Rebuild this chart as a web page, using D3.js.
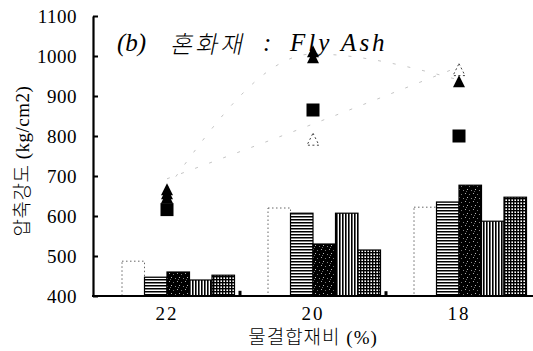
<!DOCTYPE html>
<html>
<head>
<meta charset="utf-8">
<script src="https://cdn.jsdelivr.net/npm/d3@7"></script>
<style>
  html, body { margin: 0; padding: 0; background: #fff; }
  svg { display: block; }
</style>
</head>
<body>
<svg id="chart" width="533" height="351"></svg>
<script>
// ---------- data ----------
const categories = ["22", "20", "18"];
const yTicks = [400, 500, 600, 700, 800, 900, 1000, 1100];
const barSeries = ["s1", "s2", "s3", "s4", "s5"];
const s1Values = [487, 620, 622];   // blank (dotted outline)
const s2Values = [447, 607, 635];   // horizontal lines
const s3Values = [460, 530, 677];   // dark stipple
const s4Values = [440, 607, 587];   // vertical lines
const s5Values = [452, 515, 647];   // cross-hatch
const s6Values = [413, 412, null];  // tiny black marks
const triAValues = [667, 1012, 937];
const triBValues = [657, 997, null];
const triCValues = [647, null, null];
const squareValues = [616, 865, 800];
const hollowTriValues = [null, 792, 966];
const trendAValues = [693, 830, 973];
const trendBValues = [668, 1005, 940];
const titleParts = ["(b)", "혼화재", ":", "Fly Ash"];
const yTitle = "압축강도 (kg/cm2)";
const xTitle = "물결합재비 (%)";

// ---------- setup ----------
const svg = d3.select("#chart");
const defs = svg.append("defs");

const y = d3.scaleLinear().domain([400, 1100]).range([296, 16]);
const x = d3.scaleBand().domain(categories).range([94, 532]).paddingInner(0).paddingOuter(0);
const xs = d3.scaleBand().domain(barSeries).range([28, 140.5]);
const cx = c => x(c) + x.bandwidth() / 2;

const serifKR = "'Liberation Serif', 'Noto Sans CJK KR', serif";

// patterns
const pH = defs.append("pattern").attr("id", "hlines").attr("patternUnits", "userSpaceOnUse")
  .attr("width", 4).attr("height", 3);
pH.append("rect").attr("width", 4).attr("height", 3).attr("fill", "#fff");
pH.append("rect").attr("width", 4).attr("height", 1.5).attr("fill", "#000");

const pV = defs.append("pattern").attr("id", "vlines").attr("patternUnits", "userSpaceOnUse")
  .attr("width", 3).attr("height", 4);
pV.append("rect").attr("width", 3).attr("height", 4).attr("fill", "#fff");
pV.append("rect").attr("width", 1.6).attr("height", 4).attr("fill", "#000");

const pG = defs.append("pattern").attr("id", "grid").attr("patternUnits", "userSpaceOnUse")
  .attr("width", 3).attr("height", 3);
pG.append("rect").attr("width", 3).attr("height", 3).attr("fill", "#fff");
pG.append("rect").attr("width", 1.4).attr("height", 3).attr("fill", "#000");
pG.append("rect").attr("width", 3).attr("height", 1.4).attr("fill", "#000");

const pS = defs.append("pattern").attr("id", "stipple").attr("patternUnits", "userSpaceOnUse")
  .attr("width", 8).attr("height", 8);
pS.append("rect").attr("width", 8).attr("height", 8).attr("fill", "#000");
[[1, 1, "#aaa"], [5, 2, "#777"], [3, 5, "#bbb"], [7, 6, "#888"], [2, 7, "#666"]].forEach(p => {
  pS.append("rect").attr("x", p[0]).attr("y", p[1]).attr("width", 1).attr("height", 1).attr("fill", p[2]);
});

// ---------- bars ----------
const seriesDefs = [
  { key: "s1", vals: s1Values, fill: "#fff", dash: "1.5,2.5" },
  { key: "s2", vals: s2Values, fill: "url(#hlines)", dash: null },
  { key: "s3", vals: s3Values, fill: "url(#stipple)", dash: null },
  { key: "s4", vals: s4Values, fill: "url(#vlines)", dash: null },
  { key: "s5", vals: s5Values, fill: "url(#grid)", dash: null }
];
const barG = svg.append("g");
seriesDefs.forEach(s => {
  barG.selectAll(null)
    .data(categories.map((c, i) => ({ c, v: s.vals[i] })))
    .enter().append("rect")
    .attr("x", d => x(d.c) + xs(s.key))
    .attr("y", d => y(d.v))
    .attr("width", xs.bandwidth())
    .attr("height", d => y(400) - y(d.v))
    .attr("fill", s.fill)
    .attr("stroke", s.dash ? "#555" : "#000")
    .attr("stroke-width", s.dash ? 0.9 : 1.2)
    .attr("stroke-dasharray", s.dash);
});
barG.selectAll(null)
  .data(categories.map((c, i) => ({ c, v: s6Values[i] })).filter(d => d.v != null))
  .enter().append("rect")
  .attr("x", d => x(d.c) + xs.range()[1] + 4)
  .attr("y", d => y(d.v))
  .attr("width", 3)
  .attr("height", d => y(400) - y(d.v))
  .attr("fill", "#000");

// ---------- faint trend lines ----------
const line = d3.line().x(d => cx(d.c)).y(d => y(d.v)).curve(d3.curveMonotoneX);
[trendAValues, trendBValues].forEach(vals => {
  svg.append("path")
    .datum(categories.map((c, i) => ({ c, v: vals[i] })))
    .attr("d", line)
    .attr("fill", "none")
    .attr("stroke", "#b5b5b5")
    .attr("stroke-width", 0.8)
    .attr("stroke-dasharray", "3,12");
});

// ---------- markers ----------
const triPath = (px, py, s) => `M${px},${py - s * 0.5}L${px + s * 0.5},${py + s * 0.5}L${px - s * 0.5},${py + s * 0.5}Z`;
const markG = svg.append("g");
function drawTri(vals, filled) {
  markG.selectAll(null)
    .data(categories.map((c, i) => ({ c, v: vals[i] })).filter(d => d.v != null))
    .enter().append("path")
    .attr("d", d => triPath(cx(d.c), y(d.v), 12))
    .attr("fill", filled ? "#000" : "none")
    .attr("stroke", filled ? "none" : "#444")
    .attr("stroke-width", 1)
    .attr("stroke-dasharray", filled ? null : "2,2.5");
}
drawTri(hollowTriValues, false);
drawTri(triCValues, true);
drawTri(triBValues, true);
drawTri(triAValues, true);
markG.selectAll(null)
  .data(categories.map((c, i) => ({ c, v: squareValues[i] })).filter(d => d.v != null))
  .enter().append("rect")
  .attr("x", d => cx(d.c) - 6.5)
  .attr("y", d => y(d.v) - 6.5)
  .attr("width", 13).attr("height", 13)
  .attr("fill", "#000");

// ---------- axes ----------
const yAxis = d3.axisLeft(y).tickValues(yTicks).tickFormat(d3.format("d"))
  .tickSizeInner(-5).tickSizeOuter(0).tickPadding(16);
const gy = svg.append("g").attr("transform", "translate(93,0)").call(yAxis)
  .attr("font-family", null).attr("font-size", null);
gy.select(".domain").attr("stroke", "#000").attr("stroke-width", 2.2);
gy.selectAll(".tick line").attr("stroke", "#000").attr("stroke-width", 2);
gy.selectAll(".tick text")
  .attr("fill", "#000")
  .attr("font-family", "Liberation Serif")
  .attr("font-size", 19)
  .style("letter-spacing", "0.5px");

const xAxis = d3.axisBottom(x).tickSize(0).tickPadding(11);
const gx = svg.append("g").attr("transform", "translate(0,296)").call(xAxis)
  .attr("font-family", null).attr("font-size", null);
gx.select(".domain").attr("stroke", "#000").attr("stroke-width", 2.2)
  .attr("d", "M92,0H533");
gx.selectAll(".tick text")
  .attr("fill", "#000")
  .attr("font-family", "Liberation Serif")
  .attr("font-size", 19)
  .style("letter-spacing", "2px");

// ---------- titles ----------
svg.append("text")
  .attr("transform", "translate(22,161) rotate(-90)")
  .attr("text-anchor", "middle")
  .attr("dominant-baseline", "central")
  .style("font-family", serifKR)
  .style("font-size", "19px")
  .style("font-weight", "300")
  .style("letter-spacing", "0.5px")
  .text(yTitle);

svg.append("text")
  .attr("x", cx("20"))
  .attr("y", 344)
  .attr("text-anchor", "middle")
  .style("font-family", serifKR)
  .style("font-size", "19px")
  .style("font-weight", "300")
  .style("letter-spacing", "1px")
  .text(xTitle);

const titleStyle = sel => sel
  .style("font-family", "'Liberation Serif', 'Noto Sans CJK KR', serif")
  .style("font-style", "italic")
  .style("font-size", "25px")
  .attr("fill", "#000");
svg.append("text").attr("x", 117).attr("y", 51).call(titleStyle).text(titleParts[0]);
svg.append("text").attr("transform", "translate(170,53) skewX(-12)").call(titleStyle)
  .style("font-family", "'Noto Sans CJK KR', sans-serif")
  .style("font-style", "normal")
  .style("font-weight", "300")
  .style("font-size", "24px")
  .style("letter-spacing", "3px")
  .text(titleParts[1]);
svg.append("text").attr("x", 263).attr("y", 51).call(titleStyle).text(titleParts[2]);
svg.append("text").attr("x", 290).attr("y", 51).call(titleStyle)
  .style("letter-spacing", "3px").text(titleParts[3]);
</script>
</body>
</html>
